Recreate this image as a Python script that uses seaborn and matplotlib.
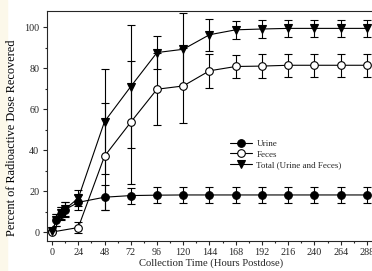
import numpy as np
import pandas as pd
import matplotlib
matplotlib.use("Agg")
import matplotlib.pyplot as plt
import seaborn as sns
from matplotlib.patches import Rectangle
from matplotlib.ticker import MultipleLocator

# collection times (hours postdose)
hours = [0, 4, 8, 12, 24, 48, 72, 96, 120, 144, 168, 192, 216, 240, 264, 288]
feces_hours = [0, 24, 48, 72, 96, 120, 144, 168, 192, 216, 240, 264, 288]

urine = [0.3, 5.8, 9.0, 11.0, 14.5, 17.0, 17.8, 18.0, 18.1, 18.1, 18.1, 18.1, 18.1, 18.1, 18.1, 18.1]
urine_sd = [0.3, 3.0, 3.0, 3.5, 3.5, 6.0, 3.9, 4.0, 4.0, 4.0, 4.0, 4.0, 4.0, 4.0, 4.0, 4.0]

feces = [0.0, 2.2, 37.0, 53.6, 69.7, 71.3, 78.7, 80.8, 81.0, 81.4, 81.4, 81.4, 81.4]
feces_sd = [0.0, 2.8, 26.0, 30.0, 17.5, 18.3, 8.4, 5.7, 5.7, 5.7, 5.7, 5.7, 5.7]

total = [0.3, 6.0, 9.3, 11.2, 16.5, 53.9, 71.0, 87.6, 89.2, 96.3, 98.7, 99.1, 99.4, 99.4, 99.4, 99.4]
total_sd = [0.3, 3.0, 3.0, 3.5, 3.8, 25.7, 30.0, 8.2, 17.6, 7.7, 4.3, 4.2, 4.2, 4.2, 4.2, 4.2]

x_ticks = list(range(0, 289, 24))
y_ticks = [0, 20, 40, 60, 80, 100]

sns.set_style("ticks")
plt.rcParams['font.family'] = ['Liberation Serif', 'DejaVu Serif']

fig = plt.figure(figsize=(3.72, 2.71), dpi=100)
fig.patches.append(Rectangle((0, 0), 7 / 372, 1, transform=fig.transFigure,
                             color='#fcf8ea', zorder=-5))
ax = fig.add_axes([47 / 372, 0.112, 328 / 372, 0.846])

series = [
    ('Urine', hours, urine, urine_sd, 'o', 'black'),
    ('Feces', feces_hours, feces, feces_sd, 'o', 'white'),
    ('Total (Urine and Feces)', hours, total, total_sd, 'v', 'black'),
]

for name, xs, ys, sd, mk, fc in series:
    ax.errorbar(xs, ys, yerr=sd, fmt='none', ecolor='black', elinewidth=0.8,
                capsize=3, capthick=0.8, zorder=2)
    df = pd.DataFrame({'Hours': xs, 'Percent': ys})
    sns.lineplot(data=df, x='Hours', y='Percent', ax=ax, color='black',
                 linewidth=0.8, marker=mk, markersize=5.5, markerfacecolor=fc,
                 markeredgecolor='black', markeredgewidth=0.8, label=name,
                 zorder=3)

ax.set_xlim(-4.6, 295.4)
ax.set_ylim(-4.2, 107.7)
ax.set_xticks(x_ticks)
ax.set_yticks(y_ticks)
ax.xaxis.set_minor_locator(MultipleLocator(12))
ax.yaxis.set_minor_locator(MultipleLocator(10))
ax.tick_params(which='major', length=3, width=0.8, labelsize=7.3, pad=2.5)
ax.tick_params(which='minor', length=1.5, width=0.8)
for s in ax.spines.values():
    s.set_linewidth(0.8)

ax.set_xlabel('Collection Time (Hours Postdose)', fontsize=7.7, labelpad=1)
ax.set_ylabel('Percent of Radioactive Dose Recovered', fontsize=8.8,
              color='black')
ax.yaxis.set_label_coords(-0.088, 0.45)

ax.legend(loc='upper left', bbox_to_anchor=(0.545, 0.46), frameon=False,
          fontsize=6.5, handlelength=2.4, labelspacing=0.25, borderpad=0,
          handletextpad=0.5)

fig.savefig('out.png', dpi=100)
